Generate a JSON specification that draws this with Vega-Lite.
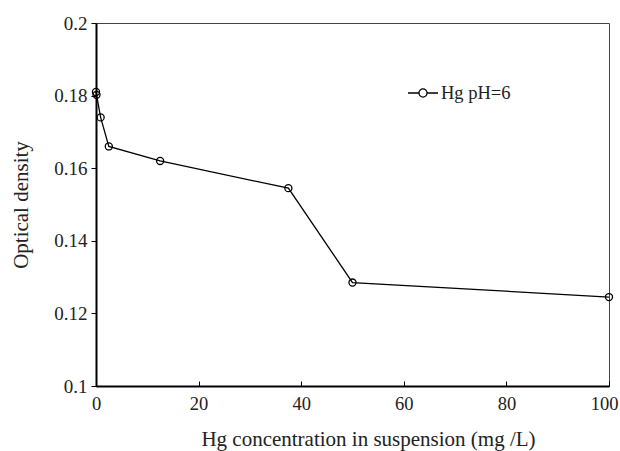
{
  "$schema": "https://vega.github.io/schema/vega-lite/v6.json",
  "width": 513,
  "height": 363,
  "autosize": {"type": "none"},
  "padding": {"left": 96, "top": 23, "right": 11, "bottom": 65},
  "background": "white",
  "config": {
    "font": "Liberation Serif",
    "view": {"stroke": "#444", "strokeWidth": 1},
    "axis": {"grid": false, "domainColor": "black", "domainWidth": 2, "tickColor": "black", "labelColor": "#222", "titleColor": "#222", "labelFont": "Liberation Serif", "titleFont": "Liberation Serif", "labelFontSize": 19, "titleFontSize": 21, "titleFontWeight": "normal"}
  },
  "data": {
    "values": [
      {"x": 0, "y": 0.181, "s": "Hg pH=6"},
      {"x": 0.1, "y": 0.1802, "s": "Hg pH=6"},
      {"x": 0.9, "y": 0.174, "s": "Hg pH=6"},
      {"x": 2.5, "y": 0.166, "s": "Hg pH=6"},
      {"x": 12.5, "y": 0.162, "s": "Hg pH=6"},
      {"x": 37.5, "y": 0.1545, "s": "Hg pH=6"},
      {"x": 50, "y": 0.1285, "s": "Hg pH=6"},
      {"x": 100, "y": 0.1245, "s": "Hg pH=6"}
    ]
  },
  "encoding": {
    "x": {"field": "x", "type": "quantitative", "scale": {"domain": [0, 100], "nice": false}, "axis": {"title": "Hg concentration in suspension (mg /L)", "values": [0, 20, 40, 60, 80, 100], "tickSize": -5, "labelPadding": 13, "titlePadding": 16, "labelFlush": false, "titleX": 272, "labelFontSize": 18.5, "labelOffset": {"condition": {"test": "datum.value == 100", "value": -5}, "value": 0}}},
    "y": {"field": "y", "type": "quantitative", "scale": {"domain": [0.1, 0.2], "nice": false, "zero": false}, "axis": {"title": "Optical density", "values": [0.1, 0.12, 0.14, 0.16, 0.18, 0.2], "format": "~g", "tickSize": 5, "labelPadding": 4, "titlePadding": 22}}
  },
  "layer": [
    {"mark": {"type": "line", "color": "black", "strokeWidth": 1.3}},
    {"mark": {"type": "point", "shape": "circle", "size": 50, "filled": false, "strokeWidth": 1.3, "opacity": 1},
     "encoding": {"color": {"field": "s", "type": "nominal", "scale": {"range": ["black"]},
       "legend": {"title": null, "orient": "none", "legendX": 311, "legendY": 54, "padding": 0,
         "symbolType": "M-1,0H-0.27M0.27,0H1M0.27,0A0.27,0.27 0 1,1 -0.27,0A0.27,0.27 0 1,1 0.27,0",
         "symbolSize": 900, "symbolStrokeWidth": 1.3, "symbolFillColor": "transparent", "symbolStrokeColor": "black",
         "labelFont": "Liberation Serif", "labelFontSize": 18.5, "labelColor": "#222", "labelOffset": 2}}}}
  ]
}
